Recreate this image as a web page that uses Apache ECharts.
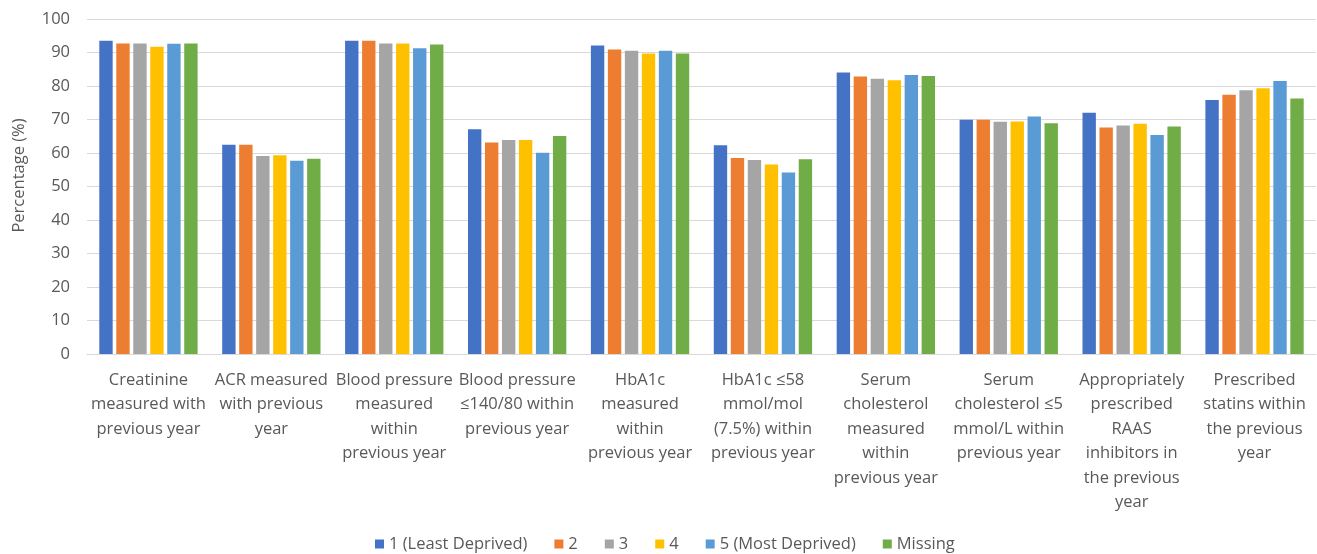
<!DOCTYPE html>
<html>
<head>
<meta charset="utf-8">
<script src="https://cdn.jsdelivr.net/npm/echarts@6/dist/echarts.min.js"></script>
<style>
  html, body { margin: 0; padding: 0; background: #ffffff; }
  #chart { width: 1317px; height: 554px; }
</style>
</head>
<body>
<div id="chart"></div>
<script>
// Care process indicators by deprivation quintile
const categories = [
  'Creatinine\nmeasured with\nprevious year',
  'ACR measured\nwith previous\nyear',
  'Blood pressure\nmeasured\nwithin\nprevious year',
  'Blood pressure\n≤140/80 within\nprevious year',
  'HbA1c\nmeasured\nwithin\nprevious year',
  'HbA1c ≤58\nmmol/mol\n(7.5%) within\nprevious year',
  'Serum\ncholesterol\nmeasured\nwithin\nprevious year',
  'Serum\ncholesterol ≤5\nmmol/L within\nprevious year',
  'Appropriately\nprescribed\nRAAS\ninhibitors in\nthe previous\nyear',
  'Prescribed\nstatins within\nthe previous\nyear'
];

const seriesNames = ['1 (Least Deprived)', '2', '3', '4', '5 (Most Deprived)', 'Missing'];

const q1 = [93.5, 62.5, 93.5, 67.1, 92.1, 62.3, 84.0, 69.9, 72.0, 75.8];
const q2 = [92.7, 62.5, 93.5, 63.1, 90.9, 58.5, 82.8, 69.9, 67.6, 77.4];
const q3 = [92.7, 59.1, 92.7, 63.9, 90.5, 57.9, 82.2, 69.3, 68.2, 78.7];
const q4 = [91.7, 59.3, 92.7, 63.9, 89.7, 56.6, 81.7, 69.4, 68.7, 79.3];
const q5 = [92.6, 57.7, 91.3, 60.1, 90.5, 54.2, 83.3, 70.9, 65.4, 81.5];
const missing = [92.7, 58.3, 92.4, 65.1, 89.7, 58.1, 83.0, 68.9, 67.9, 76.3];

const yTicks = { min: 0, max: 100, interval: 10 };

const colors = ['#4472C4', '#ED7D31', '#A5A5A5', '#FFC000', '#5B9BD5', '#70AD47'];
const seriesData = [q1, q2, q3, q4, q5, missing];

const font = '"Open Sans", "Liberation Sans", sans-serif';
const textColor = '#595959';

const chart = echarts.init(document.getElementById('chart'), null, { renderer: 'canvas' });

chart.setOption({
  animation: false,
  color: colors,
  textStyle: { fontFamily: font },
  grid: { left: 87, right: 1, top: 19, bottom: 200, containLabel: false },
  legend: {
    left: 375,
    top: 534,
    padding: 0,
    itemWidth: 9,
    itemHeight: 9,
    itemGap: 27,
    icon: 'rect',
    textStyle: { fontFamily: font, fontSize: 16.5, color: textColor, lineHeight: 20 },
    data: seriesNames
  },
  xAxis: {
    type: 'category',
    data: categories,
    axisLine: { lineStyle: { color: '#d9d9d9', width: 1 } },
    axisTick: { show: false },
    axisLabel: {
      interval: 0,
      margin: 14,
      fontFamily: font,
      fontSize: 16.5,
      lineHeight: 24.5,
      color: textColor,
      align: 'center'
    }
  },
  yAxis: {
    type: 'value',
    min: yTicks.min,
    max: yTicks.max,
    interval: yTicks.interval,
    name: 'Percentage (%)',
    nameLocation: 'middle',
    nameGap: 59,
    nameRotate: 90,
    nameTextStyle: { fontFamily: font, fontSize: 16.5, color: textColor, padding: [0, 0, 0, 22] },
    axisLine: { show: false },
    axisTick: { show: false },
    axisLabel: { margin: 17, fontFamily: font, fontSize: 16.5, color: textColor },
    splitLine: { lineStyle: { color: '#d9d9d9', width: 1 } }
  },
  series: seriesNames.map((name, i) => ({
    name: name,
    type: 'bar',
    data: seriesData[i],
    barGap: '27%',
    barCategoryGap: '20%',
    itemStyle: { color: colors[i] }
  }))
});
</script>
</body>
</html>
